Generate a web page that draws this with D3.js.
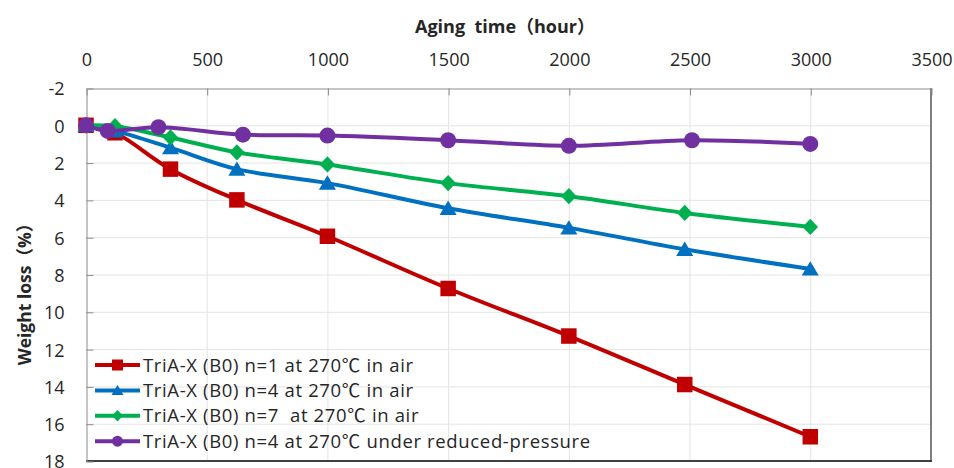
<!DOCTYPE html>
<html>
<head>
<meta charset="utf-8">
<script src="https://cdn.jsdelivr.net/npm/d3@7"></script>
<style>
  html, body { margin: 0; padding: 0; background: #fff; }
  svg { display: block; }
  text { font-family: "Open Sans", "Noto Sans CJK JP", sans-serif; fill: #262626; }
</style>
</head>
<body>
<svg id="chart" width="954" height="468"></svg>
<script>
// Aging time (hours) at which each sample was weighed
const hoursAir = [0, 120, 350, 625, 1000, 1500, 2000, 2480, 3000];
const hoursVacuum = [0, 90, 300, 650, 1000, 1500, 2000, 2510, 3000];

// Weight loss (%) per sample
const lossN1Air = [0, 0.4, 2.35, 4.0, 5.95, 8.75, 11.3, 13.9, 16.7];
const lossN4Air = [0, 0.3, 1.2, 2.35, 3.1, 4.45, 5.5, 6.65, 7.7];
const lossN7Air = [0, 0.05, 0.65, 1.45, 2.1, 3.1, 3.8, 4.7, 5.45];
const lossN4Vacuum = [0, 0.3, 0.1, 0.5, 0.55, 0.8, 1.1, 0.8, 1.0];

const seriesNames = [
  "TriA-X (B0) n=1 at 270\u2103 in air",
  "TriA-X (B0) n=4 at 270\u2103 in air",
  "TriA-X (B0) n=7  at 270\u2103 in air",
  "TriA-X (B0) n=4 at 270\u2103 under reduced-pressure"
];
const seriesColors = ["#C00000", "#0070C0", "#00B050", "#7030A0"];
const seriesMarkers = ["square", "triangle", "diamond", "circle"];

const xTicks = [0, 500, 1000, 1500, 2000, 2500, 3000, 3500];
const yTicks = [-2, 0, 2, 4, 6, 8, 10, 12, 14, 16, 18];

const xTitle = "Aging  time\uFF08hour\uFF09";
const yTitle = "Weight loss\uFF08%\uFF09";

const series = [
  { name: seriesNames[0], xs: hoursAir, ys: lossN1Air },
  { name: seriesNames[1], xs: hoursAir, ys: lossN4Air },
  { name: seriesNames[2], xs: hoursAir, ys: lossN7Air },
  { name: seriesNames[3], xs: hoursVacuum, ys: lossN4Vacuum }
].map((s, i) => ({ ...s, color: seriesColors[i], marker: seriesMarkers[i],
  points: s.xs.map((x, j) => ({ x, y: s.ys[j] })) }));

const plotL = 86, plotR = 931, plotT = 88, plotB = 461;
const x = d3.scaleLinear().domain([0, 3500]).range([plotL, plotR]);
const y = d3.scaleLinear().domain([-2, 18]).range([plotT, plotB]);

const svg = d3.select("#chart");

// gridlines
const grid = svg.append("g").attr("stroke", "#e4e4e4").attr("stroke-width", 1);
grid.selectAll(".gx").data(xTicks.filter(t => t > 0 && t < 3500)).join("line")
  .attr("x1", d => x(d) + 0.5).attr("x2", d => x(d) + 0.5)
  .attr("y1", plotT).attr("y2", plotB);
grid.selectAll(".gy").data(yTicks.filter(t => t > -2 && t < 18)).join("line")
  .attr("x1", plotL).attr("x2", plotR)
  .attr("y1", d => y(d) + 0.5).attr("y2", d => y(d) + 0.5);

// plot frame: right and bottom edges
svg.append("line").attr("x1", plotR).attr("x2", plotR).attr("y1", plotT).attr("y2", plotB + 1)
  .attr("stroke", "#7f7f7f").attr("stroke-width", 2);
svg.append("line").attr("x1", plotL).attr("x2", plotR + 1).attr("y1", plotB).attr("y2", plotB)
  .attr("stroke", "#404040").attr("stroke-width", 2);

// top (time) axis
const xAxis = svg.append("g").attr("transform", `translate(0.5,${plotT + 0.5})`)
  .call(d3.axisTop(x).tickValues(xTicks).tickFormat(d => String(d))
    .tickSizeInner(-7).tickSizeOuter(0).tickPadding(23));
// left (weight loss) axis
const yAxis = svg.append("g").attr("transform", `translate(${plotL + 0.5},0.5)`)
  .call(d3.axisLeft(y).tickValues(yTicks).tickFormat(d => String(d))
    .tickSizeInner(-7).tickSizeOuter(0).tickPadding(22));
[xAxis, yAxis].forEach(a => {
  a.select(".domain").attr("stroke", "#8c8c8c");
  a.selectAll(".tick line").attr("stroke", "#8c8c8c");
  a.selectAll(".tick text").attr("font-family", "'Open Sans', sans-serif")
    .attr("font-size", 18).attr("fill", "#262626");
});
yAxis.selectAll(".tick text").attr("dy", "0.36em");

// axis titles
svg.append("text").attr("x", 505).attr("y", 33).attr("text-anchor", "middle")
  .attr("font-weight", "bold").attr("font-size", 18).style("white-space", "pre")
  .text(xTitle);
svg.append("text").attr("transform", "translate(31,290) rotate(-90)")
  .attr("text-anchor", "middle").attr("font-weight", "bold").attr("font-size", 17.5)
  .text(yTitle);

// marker shapes
function markerPath(kind, s) {
  const h = s / 2;
  if (kind === "square") return `M${-h},${-h}H${h}V${h}H${-h}Z`;
  if (kind === "triangle") return `M0,${-h}L${h * 1.1},${h * 0.85}L${-h * 1.1},${h * 0.85}Z`;
  if (kind === "diamond") return `M0,${-h * 1.05}L${h},0L0,${h * 1.05}L${-h},0Z`;
  return d3.arc()({ innerRadius: 0, outerRadius: h, startAngle: 0, endAngle: 2 * Math.PI });
}

const line = d3.line().x(d => x(d.x)).y(d => y(d.y)).curve(d3.curveCatmullRom.alpha(0.5));

const plot = svg.append("g");
series.forEach(s => {
  const g = plot.append("g");
  g.append("path").attr("d", line(s.points)).attr("fill", "none")
    .attr("stroke", s.color).attr("stroke-width", 4).attr("stroke-linejoin", "round");
  g.selectAll("path.m").data(s.points).join("path").attr("class", "m")
    .attr("transform", d => `translate(${x(d.x)},${y(d.y)})`)
    .attr("d", markerPath(s.marker, s.marker === "circle" ? 16 : 15.5))
    .attr("fill", s.color);
});

// legend (no background; gridlines show through)
const legend = svg.append("g");
series.forEach((s, i) => {
  const cy = 365 + i * 25.4;
  const row = legend.append("g").attr("transform", `translate(0,${cy})`);
  row.append("line").attr("x1", 95).attr("x2", 140).attr("y1", 0).attr("y2", 0)
    .attr("stroke", s.color).attr("stroke-width", 4);
  row.append("path").attr("transform", "translate(117.5,0)")
    .attr("d", markerPath(s.marker, 11)).attr("fill", s.color);
  const t = row.append("text").attr("x", 143).attr("y", 0).attr("dy", "0.36em")
    .attr("font-size", 18.5).attr("letter-spacing", 0.65).style("white-space", "pre");
  // the degree-Celsius sign uses the CJK face for its full-width glyph
  s.name.split(/(\u2103)/).forEach(part => {
    if (!part) return;
    const sp = t.append("tspan").text(part);
    if (part === "\u2103") sp.attr("font-family", "'Noto Sans CJK JP'");
  });
});
</script>
</body>
</html>
